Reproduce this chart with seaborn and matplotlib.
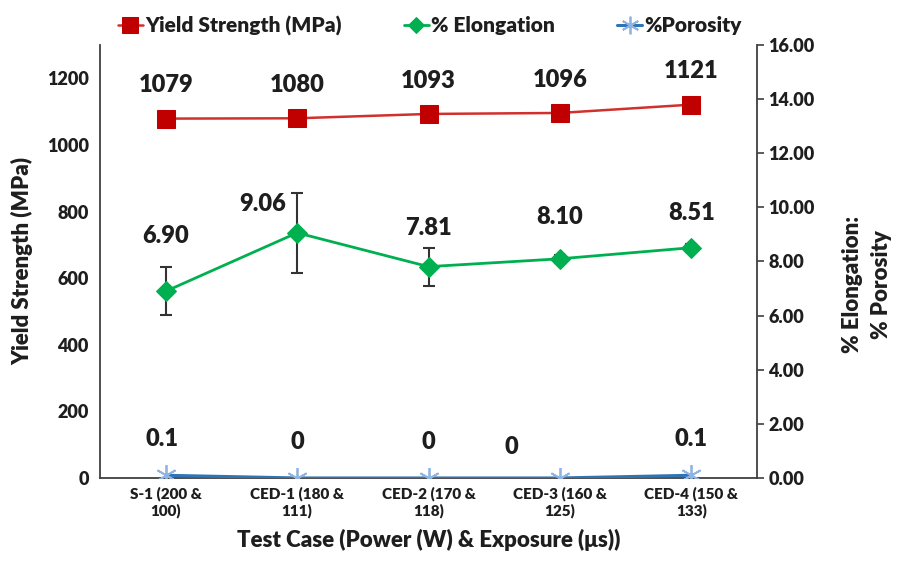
"""Yield strength, elongation and porosity per test case (dual axis)."""
import numpy as np
import pandas as pd
import matplotlib
matplotlib.use("Agg")
import matplotlib.pyplot as plt
import seaborn as sns

cases = ["S-1 (200 &\n100)", "CED-1 (180 &\n111)", "CED-2 (170 &\n118)",
         "CED-3 (160 &\n125)", "CED-4 (150 &\n133)"]
yield_strength = [1079, 1080, 1093, 1096, 1121]
elongation = [6.90, 9.06, 7.81, 8.10, 8.51]
elongation_err = [0.88, 1.48, 0.70, 0.15, 0.15]
porosity = [0.1, 0, 0, 0, 0.1]
porosity_labels = ["0.1", "0", "0", "0", "0.1"]

# label offsets in points (dx, dy), tuned to the reference
ys_off = [(0, 24), (0, 24), (0, 24), (0, 24), (0, 24)]
el_off = [(0, 40), (-25, 21), (0, 28), (0, 30), (0, 25)]
po_off = [(-3, 26), (0, 26), (0, 26), (-35, 22), (0, 26)]

sns.set_theme(style="white")
plt.rcParams["font.family"] = ["Lato", "DejaVu Sans"]
plt.rcParams["font.weight"] = "heavy"
for k in ("text.color", "axes.labelcolor", "xtick.color", "ytick.color"):
    plt.rcParams[k] = "#1e1e1e"
W = "heavy"

df = pd.DataFrame({"x": np.arange(len(cases)), "ys": yield_strength,
                   "el": elongation, "po": porosity})

fig = plt.figure(figsize=(9.05, 5.8), dpi=100)
ax = fig.add_axes([0.1105, 0.1759, 0.726, 0.7465])
ax2 = ax.twinx()

red, green, blue = "#C00000", "#00B050", "#2E75B6"

sns.lineplot(data=df, x="x", y="ys", ax=ax, color="#D0312D", lw=1.8,
             marker="s", markersize=13, markerfacecolor=red,
             markeredgecolor=red, label="Yield Strength (MPa)", legend=False)
ax2.errorbar(df["x"], df["el"], yerr=elongation_err, fmt="none",
             ecolor="#333333", elinewidth=1.5, capsize=4, capthick=1.5, zorder=2)
sns.lineplot(data=df, x="x", y="el", ax=ax2, color=green, lw=2,
             marker="D", markersize=10, markerfacecolor=green,
             markeredgecolor=green, label="% Elongation", legend=False, zorder=3)
sns.lineplot(data=df, x="x", y="po", ax=ax2, color=blue, lw=2.2,
             marker=(6, 2, 0), markersize=15, markeredgecolor="#8FB4E3",
             markeredgewidth=1.3, label="%Porosity", legend=False, zorder=3)

for x, v, (dx, dy) in zip(df["x"], yield_strength, ys_off):
    ax.annotate(f"{v}", (x, v), xytext=(dx, dy), textcoords="offset points",
                ha="center", va="center", fontsize=17, fontweight=W)
for x, v, (dx, dy) in zip(df["x"], elongation, el_off):
    ax2.annotate(f"{v:.2f}", (x, v), xytext=(dx, dy), textcoords="offset points",
                 ha="center", va="center", fontsize=17, fontweight=W)
for x, v, t, (dx, dy) in zip(df["x"], porosity, porosity_labels, po_off):
    ax2.annotate(t, (x, v), xytext=(dx, dy), textcoords="offset points",
                 ha="center", va="center", fontsize=17, fontweight=W)

ax.set_xlim(-0.5, len(cases) - 0.5)
ax.set_ylim(0, 1300)
ax.set_yticks(range(0, 1201, 200))
ax2.set_ylim(0, 16)
ax2.set_yticks(np.arange(0, 16.1, 2))
ax2.set_yticklabels([f"{t:.2f}" for t in np.arange(0, 16.1, 2)])
ax.set_xticks(df["x"])
ax.set_xticklabels(cases, fontsize=11, fontweight=W)

ax.tick_params(axis="y", labelsize=13, length=0, pad=8)
ax.tick_params(axis="x", length=0, pad=6)
ax2.tick_params(axis="y", labelsize=13, length=5, width=1.2, direction="out",
                right=True, color="#404040", pad=3)
for lab in ax.get_yticklabels() + ax2.get_yticklabels():
    lab.set_fontweight(W)

for a in (ax, ax2):
    for s in a.spines.values():
        s.set_visible(False)
ax.spines["left"].set_visible(True)
ax.spines["bottom"].set_visible(True)
ax2.spines["right"].set_visible(True)
for s in (ax.spines["left"], ax.spines["bottom"], ax2.spines["right"]):
    s.set_color("#404040")
    s.set_linewidth(1.3)

ax.set_xlabel("Test Case (Power (W) & Exposure (\u03bcs))", fontsize=16,
              fontweight=W, labelpad=8)
ax.set_ylabel("Yield Strength (MPa)", fontsize=16, fontweight=W, labelpad=10)
ax2.set_ylabel("")
fig.text(0.958, 0.51, "% Elongation:\n% Porosity", rotation=90, ha="center",
         va="center", multialignment="center", fontsize=16, fontweight=W,
         linespacing=1.5)

h1, l1 = ax.get_legend_handles_labels()
h2, l2 = ax2.get_legend_handles_labels()
leg = fig.legend(h1 + h2, l1 + l2, loc="upper center", bbox_to_anchor=(0.475, 1.005),
                 ncol=3, frameon=False, fontsize=15, handlelength=1.2,
                 handletextpad=0.1, columnspacing=3.0, markerscale=0.85)
for t in leg.get_texts():
    t.set_fontweight(W)

fig.savefig("out.png", dpi=100)
plt.close(fig)
